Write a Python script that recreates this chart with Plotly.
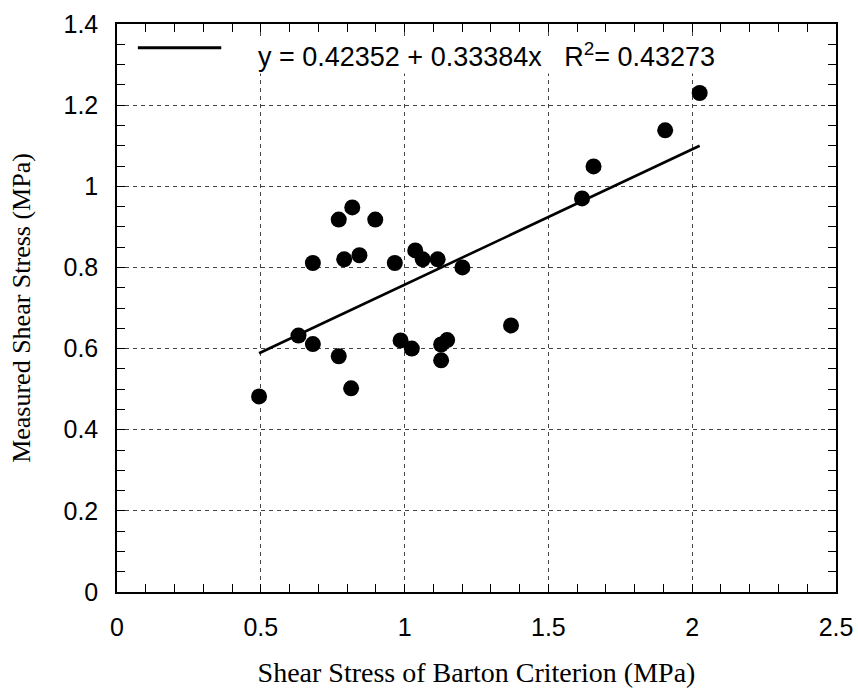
import plotly.graph_objects as go

barton_x = [0.494, 0.631, 0.681, 0.681, 0.771, 0.771, 0.790, 0.818, 0.814, 0.843,
            0.898, 0.966, 0.986, 1.025, 1.037, 1.063, 1.115, 1.127, 1.148, 1.127,
            1.201, 1.370, 1.617, 1.657, 1.906, 2.026]
measured_y = [0.482, 0.632, 0.611, 0.811, 0.581, 0.918, 0.820, 0.948, 0.502, 0.830,
              0.918, 0.811, 0.620, 0.600, 0.842, 0.820, 0.820, 0.610, 0.621, 0.571,
              0.800, 0.657, 0.970, 1.049, 1.138, 1.230]

# Linear fit reported in the chart
fit_intercept = 0.42352
fit_slope = 0.33384
fit_r2 = 0.43273

x_ticks = [0, 0.5, 1, 1.5, 2, 2.5]
y_ticks = [0, 0.2, 0.4, 0.6, 0.8, 1, 1.2, 1.4]

fit_x = [min(barton_x), max(barton_x)]
fit_y = [fit_intercept + fit_slope * v for v in fit_x]

fig = go.Figure()
fig.add_trace(go.Scatter(
    x=fit_x, y=fit_y, mode="lines",
    line=dict(color="black", width=2.6),
    showlegend=False, hoverinfo="skip"))
fig.add_trace(go.Scatter(
    x=barton_x, y=measured_y, mode="markers",
    marker=dict(color="black", size=16, line=dict(width=0)),
    showlegend=False))

tick_font = dict(family="Liberation Sans, Arial, sans-serif", size=25, color="black")
title_font_x = dict(family="Liberation Serif, Times New Roman, serif", size=28, color="black")
title_font_y = dict(family="Liberation Serif, Times New Roman, serif", size=26, color="black")
grid_dash = "4px,4px"

common = dict(
    showline=True, linecolor="black", linewidth=1.5, mirror="allticks",
    ticks="inside", ticklen=8, tickwidth=1, tickcolor="black",
    showgrid=True, gridcolor="#444444", gridwidth=1, griddash=grid_dash,
    zeroline=False, tickfont=tick_font, automargin=False,
)

fig.update_xaxes(
    range=[0, 2.5], tickvals=x_ticks, ticktext=[f"{v:g}" for v in x_ticks],
    minor=dict(dtick=0.1, ticks="inside", ticklen=8, tickcolor="black", showgrid=False),
    title=dict(text="Shear Stress of Barton Criterion (MPa)", font=title_font_x, standoff=32),
    ticklabelstandoff=12,
    **common)
fig.update_yaxes(
    range=[0, 1.4], tickvals=y_ticks, ticktext=[f"{v:g}" for v in y_ticks],
    minor=dict(dtick=0.05, ticks="inside", ticklen=8, tickcolor="black", showgrid=False),
    title=dict(text="Measured Shear Stress (MPa)", font=title_font_y, standoff=25),
    ticklabelstandoff=12,
    **common)

# Legend drawn as a sample line plus text, placed in the upper left of the plot area
fig.add_shape(type="line", xref="paper", yref="paper",
              x0=0.029, x1=0.145, y0=0.958, y1=0.958,
              line=dict(color="black", width=3))
fig.add_annotation(
    xref="paper", yref="paper", x=0.193, y=0.946, xanchor="left", yanchor="middle",
    text=f"y = {fit_intercept:.5f} + {fit_slope:.5f}x   R<sup>2</sup>= {fit_r2:.5f}",
    showarrow=False, font=dict(family="Liberation Sans, Arial, sans-serif", size=27, color="black"),
    bgcolor="white")

fig.update_layout(
    width=858, height=688,
    margin=dict(l=117, r=22, t=24, b=96),
    plot_bgcolor="white", paper_bgcolor="white",
    showlegend=False,
)

fig.write_html("out.html", config={"displayModeBar": False},
               post_script="document.body.style.margin='0';document.body.style.overflow='hidden';")
